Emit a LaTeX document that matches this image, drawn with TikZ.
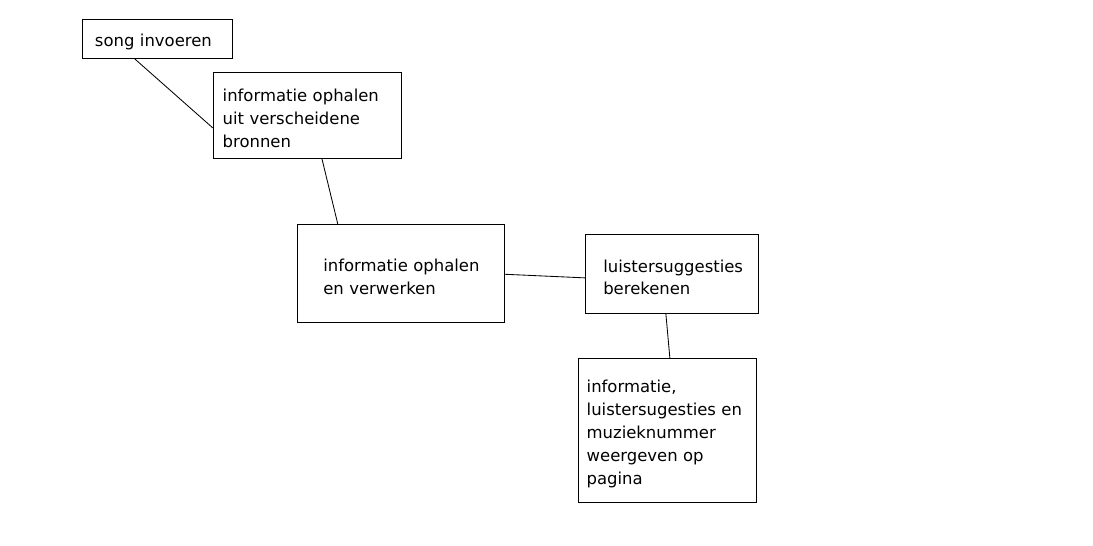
\documentclass[tikz,border=0pt]{standalone}
\usepackage{fontspec}
\setmainfont{DejaVu Sans}
\usepackage{tikz}
\usetikzlibrary{calc}
\hyphenpenalty=10000

\begin{document}
\begin{tikzpicture}[x=0.025cm, y=-0.025cm,
    font=\fontsize{11.7pt}{16.3pt}\selectfont,
    execute at begin node={\rule{0pt}{0.49cm}},
    line width=0.6pt]

        \fill[white] (0,0) rectangle (1093,546);
        \useasboundingbox (0,0) rectangle (1093,546);

        % Invoer

        \node [draw,
        align=left,
        inner xsep=0.325cm,
        text width=3.1cm,
        minimum height=0.975cm
            ] (song) at (157,38.8) {song invoeren};

        \node [draw,
        align=left,
        inner xsep=0.235cm,
        text width=4.24cm,
        minimum height=2.14cm
            ] (bronnen) at (307.5,115.2)
            {informatie ophalen\\uit verscheidene\\bronnen};

        % Verwerking

        \node [draw,
        align=left,
        inner xsep=0.65cm,
        text width=3.875cm,
        minimum height=2.44cm
            ] (verwerken) at (400.8,273.5)
            {informatie~ophalen\\en verwerken};

        \node [draw,
        align=left,
        inner xsep=0.45cm,
        text width=3.435cm,
        minimum height=1.975cm
            ] (suggesties) at (672,273.8)
            {luistersuggesties\\berekenen};

        % Weergave

        \node [draw,
        align=left,
        inner xsep=0.21cm,
        text width=4.04cm,
        minimum height=3.6cm
            ] (weergeven) at (667.5,430.3)
            {informatie,\\luistersugesties en\\muzieknummer\\weergeven op\\pagina};

        \draw ($(song.south west)+(53,0)$) -- ($(bronnen.north west)+(0,56)$);

        \draw ($(bronnen.south west)+(109,0)$) -- ($(verwerken.north west)+(41,0)$);

        \draw ($(verwerken.north east)+(0,50)$) -- ($(suggesties.north west)+(0,44)$);

        \draw ($(suggesties.south west)+(81,0)$) -- ($(weergeven.north west)+(92,0)$);
        \end{tikzpicture}
\end{document}
